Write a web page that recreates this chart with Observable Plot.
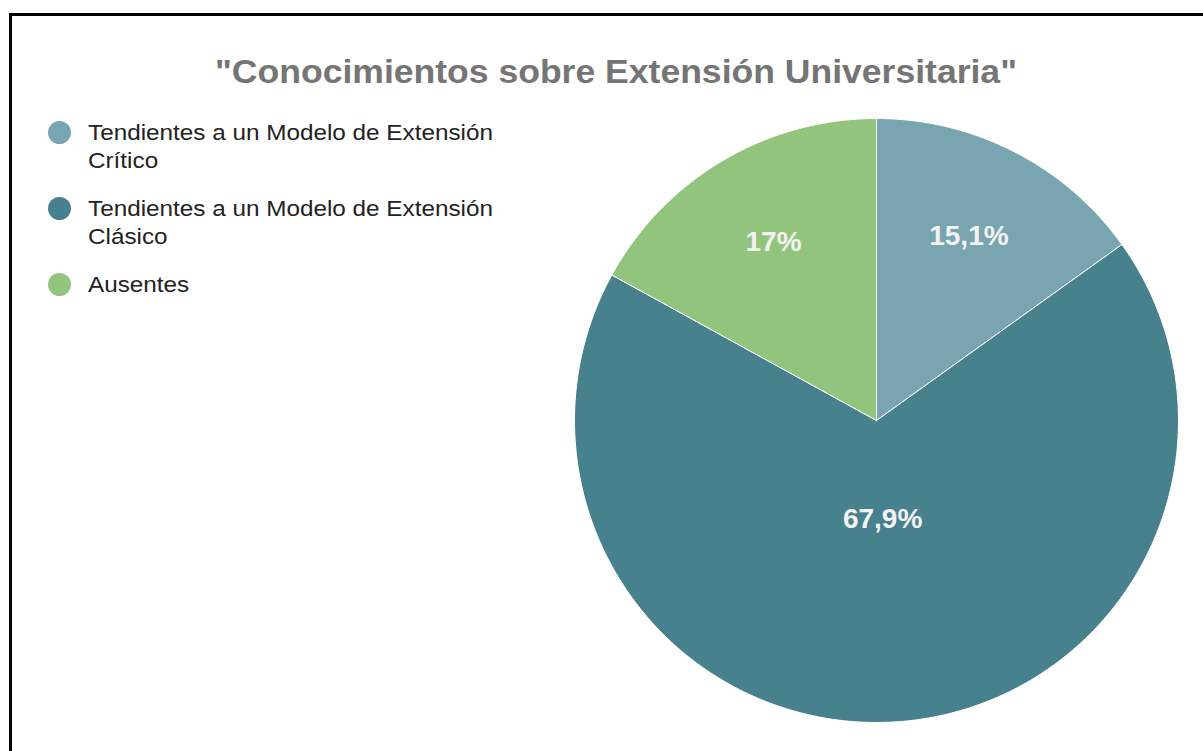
<!DOCTYPE html>
<html>
<head>
<meta charset="utf-8">
<script src="https://cdn.jsdelivr.net/npm/d3@7"></script>
<script src="https://cdn.jsdelivr.net/npm/@observablehq/plot@0.6"></script>
<style>
  html, body { margin: 0; padding: 0; background: #fff; overflow: hidden; }
  #wrap { position: relative; width: 1203px; height: 751px; font-family: Arial, "Liberation Sans", sans-serif; }
  #frame { position: absolute; left: 9px; top: 13px; width: 1300px; height: 800px; border: 3px solid #000; box-sizing: border-box; }
  #chart { position: absolute; left: 0; top: 0; }
  #title { position: absolute; left: 215px; top: 54.6px; font-size: 33px; line-height: 33px; font-weight: bold; color: #757575; white-space: nowrap; display: inline-block; transform-origin: 0 0; }
  #legend { position: absolute; left: 48px; top: 119.3px; }
  .item { position: relative; padding-left: 40px; font-size: 22px; line-height: 27.6px; color: #222; margin-bottom: 20.7px; white-space: nowrap; }
  .txt { display: inline-block; transform-origin: 0 0; }
  .sw { position: absolute; left: 0; top: 2.2px; width: 23px; height: 23px; border-radius: 50%; }
</style>
</head>
<body>
<div id="wrap">
  <div id="frame"></div>
  <div id="chart"></div>
  <span id="title"></span>
  <div id="legend"></div>
</div>
<script>
const title = "\"Conocimientos sobre Extensión Universitaria\"";
const categories = ["Tendientes a un Modelo de Extensión Crítico", "Tendientes a un Modelo de Extensión Clásico", "Ausentes"];
const legendLines = [["Tendientes a un Modelo de Extensión", "Crítico"], ["Tendientes a un Modelo de Extensión", "Clásico"], ["Ausentes"]];
const values = [15.1, 67.9, 17.0];
const labels = ["15,1%", "67,9%", "17%"];
const colors = ["#78a5b0", "#47818e", "#93c47d"];

const t = document.getElementById("title");
t.textContent = title;

const legend = document.getElementById("legend");
const txts = [];
legendLines.forEach((lines, i) => {
  const d = document.createElement("div");
  d.className = "item";
  const s = document.createElement("span");
  s.className = "sw";
  s.style.background = colors[i];
  d.appendChild(s);
  const tx = document.createElement("span");
  tx.className = "txt";
  lines.forEach((l, j) => {
    if (j) tx.appendChild(document.createElement("br"));
    tx.appendChild(document.createTextNode(l));
  });
  d.appendChild(tx);
  legend.appendChild(d);
  txts.push(tx);
});

// Build slice polygons from the data (clockwise from 12 o'clock)
const total = d3.sum(values);
const pts = [];
const labs = [];
let acc = 0;
values.forEach((v, i) => {
  const a0 = acc / total * 2 * Math.PI;
  acc += v;
  const a1 = acc / total * 2 * Math.PI;
  const n = Math.max(4, Math.ceil((a1 - a0) / (Math.PI / 180)));
  pts.push({name: categories[i], x: 0, y: 0});
  for (let k = 0; k <= n; k++) {
    const a = a0 + (a1 - a0) * k / n;
    pts.push({name: categories[i], x: Math.sin(a), y: Math.cos(a)});
  }
  pts.push({name: categories[i], x: 0, y: 0});
  const am = (a0 + a1) / 2;
  const share = v / total;
  const r = share > 0.5 ? 0.34 : 0.67;
  labs.push({label: labels[i], x: r * Math.sin(am), y: r * Math.cos(am)});
});

const plot = Plot.plot({
  width: 1203,
  height: 751,
  marginLeft: 574,
  marginRight: 25,
  marginTop: 118,
  marginBottom: 29,
  x: {domain: [-1, 1], axis: null},
  y: {domain: [-1, 1], axis: null},
  color: {domain: categories, range: colors},
  style: {background: "transparent", overflow: "visible"},
  marks: [
    Plot.line(pts, {x: "x", y: "y", z: "name", fill: "name", stroke: "#fff", strokeWidth: 1, curve: "linear-closed"}),
    Plot.text(labs, {x: "x", y: "y", text: "label", dy: -4, fill: "#f3f3f3", fontSize: 28, fontWeight: "bold", fontFamily: "Arial, 'Liberation Sans', sans-serif"})
  ]
});
document.getElementById("chart").appendChild(plot);

// stretch text horizontally to match reference proportions
const tw = t.getBoundingClientRect().width;
t.style.transform = `scaleX(${802 / tw})`;
const probe = document.createElement("span");
probe.style.cssText = "position:absolute;visibility:hidden;font-size:22px;white-space:nowrap;font-family:Arial,'Liberation Sans',sans-serif";
probe.textContent = legendLines[0][0];
document.body.appendChild(probe);
const lw = probe.getBoundingClientRect().width;
probe.remove();
txts.forEach(tx => tx.style.transform = `scaleX(${405 / lw})`);
</script>
</body>
</html>
